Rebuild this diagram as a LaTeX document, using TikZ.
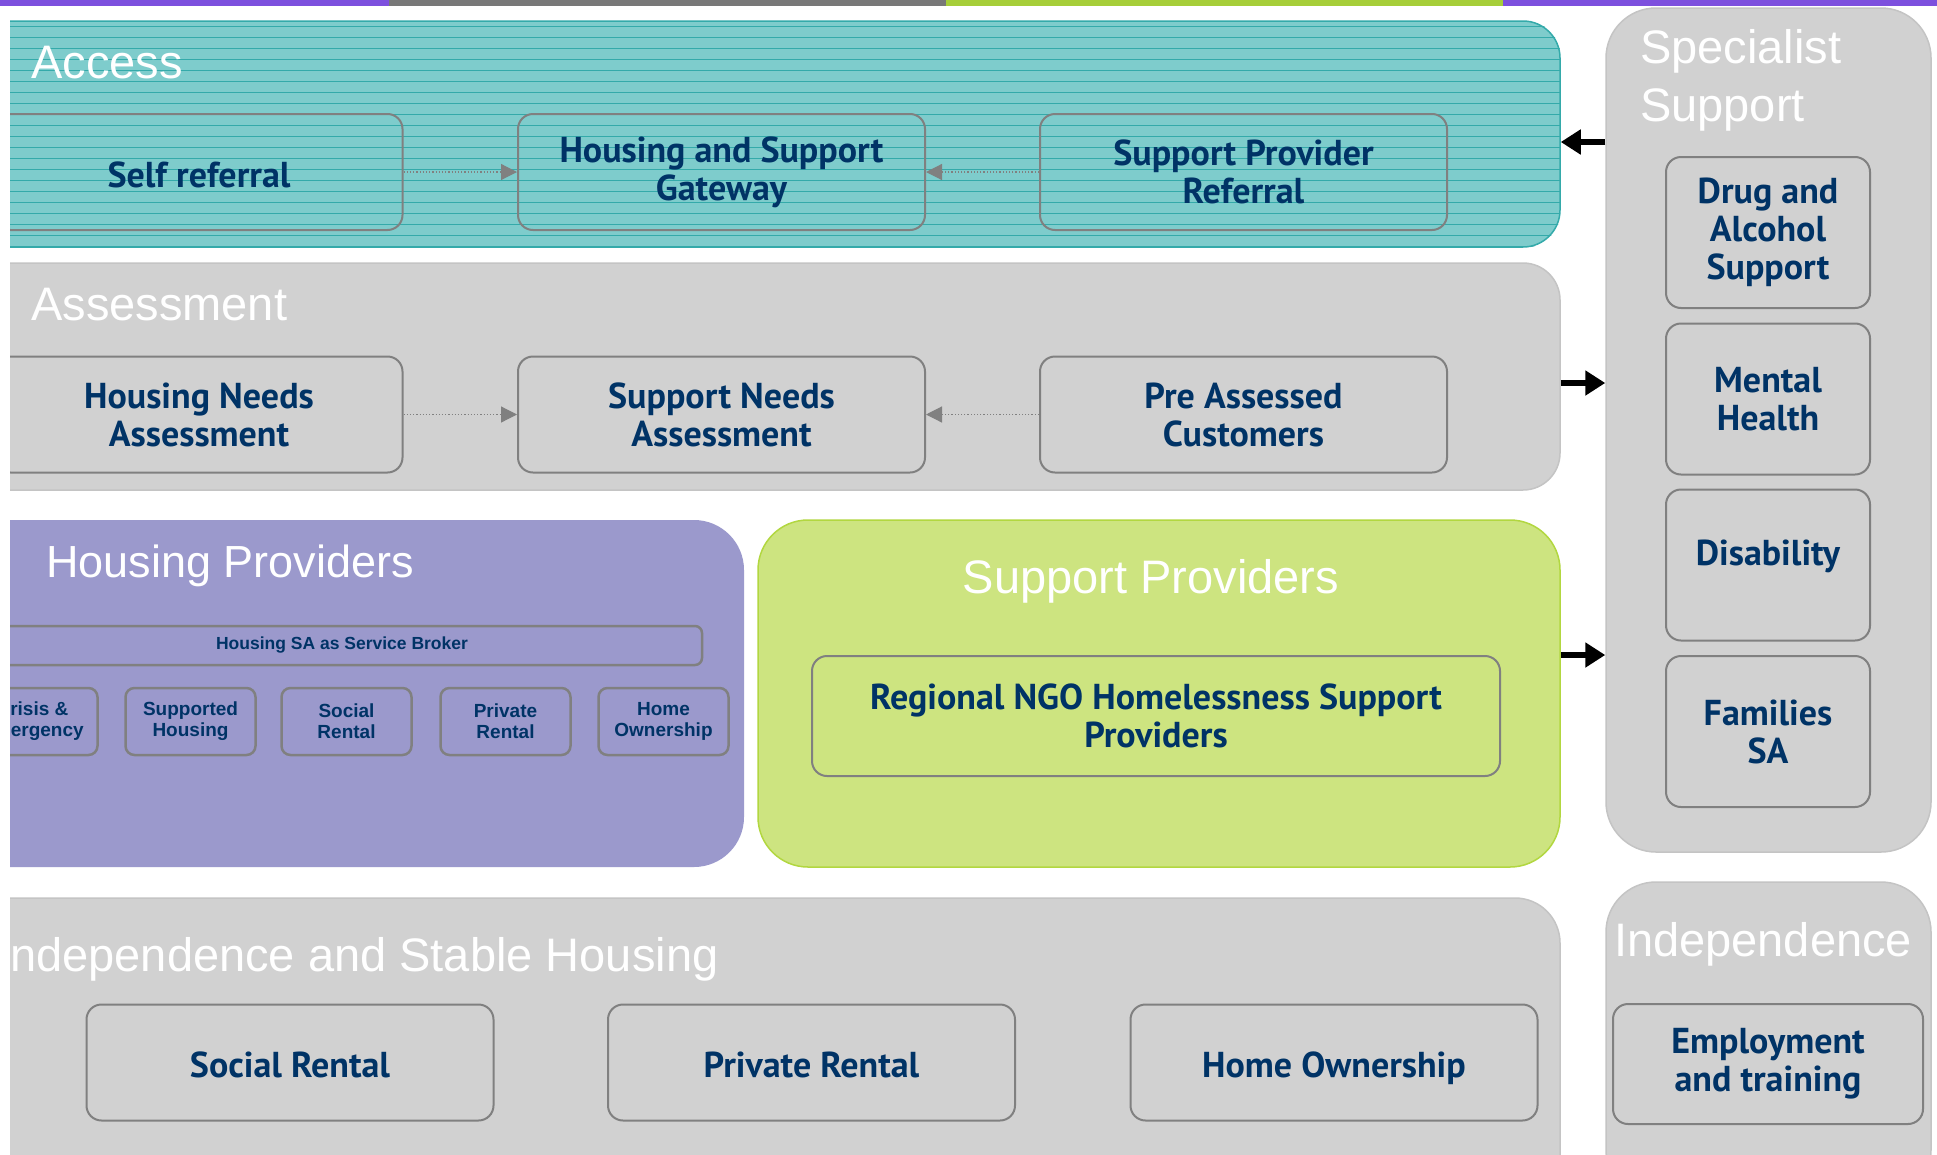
\documentclass[tikz,border=0pt]{standalone}
\usepackage{fontspec}
\setmainfont{Liberation Sans}
\newfontfamily\boxfont{PT Sans}
\usetikzlibrary{%
  arrows.meta,%
  positioning%
}
\definecolor{navy}{RGB}{0,51,102}
\definecolor{tealfill}{RGB}{126,204,204}
\definecolor{tealline}{RGB}{52,170,170}
\definecolor{panelgrey}{RGB}{209,209,209}
\definecolor{edgegrey}{RGB}{196,196,196}
\definecolor{boxgrey}{RGB}{128,128,128}
\definecolor{lilac}{RGB}{155,153,204}
\definecolor{lime}{RGB}{205,228,128}
\definecolor{limeedge}{RGB}{178,215,64}
\definecolor{barpurple}{RGB}{125,80,222}
\definecolor{bargrey}{RGB}{120,120,120}
\definecolor{bargreen}{RGB}{166,206,57}

% one line of box text, kept level whatever its letters
\newcommand{\evenline}[1]{\raisebox{-3pt}[24pt][0pt]{#1}}

\tikzset{
  panel/.style={inner sep=0pt, rounded corners=40pt},
  stepbox/.style={draw=boxgrey, line width=2pt, rounded corners=15pt,
    minimum width=407pt, minimum height=116pt, inner sep=0pt, align=center,
    text=navy, font=\boxfont\bfseries\fontsize{36}{38}\selectfont},
  tinybox/.style={draw=boxgrey, line width=2.5pt, rounded corners=9pt,
    minimum width=130pt, minimum height=67pt, inner sep=0pt, align=center,
    text=navy, font=\bfseries\fontsize{19}{21}\selectfont},
  heading/.style={text=white, inner sep=0pt, font=\fontsize{47}{58}\selectfont},
  flow/.style={draw=boxgrey, dotted, line width=1.2pt,
    -{Triangle[length=16pt,width=16pt]}},
  bigarrow/.style={line width=6pt, -{Triangle[length=20pt,width=24pt]}}
}

\begin{document}
\begin{tikzpicture}[x=1pt,y=-1pt]
\clip (0,0) rectangle (1937,1154);
\useasboundingbox (0,0) rectangle (1937,1154);
\fill[white] (0,0) rectangle (1937,1154);

% coloured strip along the top
\fill[barpurple] (0,0) rectangle (389,6);
\fill[bargrey] (389,0) rectangle (946,6);
\fill[bargreen] (946,0) rectangle (1503,6);
\fill[barpurple] (1503,0) rectangle (1937,6);

\begin{scope}
\clip (10,-10) rectangle (1600,1200);

% Access
\node[panel, rounded corners=37pt, fill=tealfill, draw=tealline, line width=1.5pt,
  minimum width=1600pt, minimum height=226pt] (acc) at (760,134) {};
\begin{scope}
\clip[rounded corners=37pt] (acc.south west) rectangle (acc.north east);
\foreach \y in {26,37,...,247}
  \draw[tealline, line width=1pt] (-40,\y) -- (1560,\y);
\end{scope}
\node[heading, anchor=base west] (acctitle) at (31,78) {Access};
\node[stepbox] (self) at (199,172) {\evenline{Self referral}};
\node[stepbox] (gate) at (721.5,172) {Housing and Support\\Gateway};
\node[stepbox] (spref) at (1243.5,172) {Support Provider\\Referral};
\draw[flow] (self) -- (gate);
\draw[flow] (spref) -- (gate);

% Assessment
\node[panel, rounded corners=37pt, fill=panelgrey, draw=edgegrey, line width=1.5pt,
  minimum width=1600pt, minimum height=227pt] (asm) at (760,376.5) {};
\node[heading, anchor=base west] (asmtitle) at (31,320) {Assessment};
\node[stepbox] (hna) at (199,414.5) {Housing Needs\\Assessment};
\node[stepbox] (sna) at (721.5,414.5) {Support Needs\\Assessment};
\node[stepbox] (pac) at (1243.5,414.5) {Pre Assessed\\Customers};
\draw[flow] (hna) -- (sna);
\draw[flow] (pac) -- (sna);

% Housing Providers
\node[panel, rounded corners=50pt, fill=lilac,
  minimum width=784pt, minimum height=347pt] (hp) at (352,693.5) {};
\node[heading, anchor=base west, font=\fontsize{45}{54}\selectfont] (hptitle)
  at (46,577) {Housing Providers};
\node[tinybox, minimum width=720pt, minimum height=39pt, rounded corners=7pt,
  font=\bfseries\fontsize{17.5}{21}\selectfont] (broker) at (342,645.5)
  {Housing SA as Service Broker};
\node[tinybox] (crisis) at (32.5,721.5) {Crisis \&\\Emergency};
\node[tinybox] (suph) at (190.5,721.5) {Supported\\Housing};
\node[tinybox] (socr) at (346.5,721.5) {Social\\Rental};
\node[tinybox] (privr) at (505.5,721.5) {Private\\Rental};
\node[tinybox] (homeo) at (663.5,721.5) {Home\\Ownership};

% Support Providers
\node[panel, rounded corners=50pt, fill=lime, draw=limeedge, line width=1.5pt,
  minimum width=802pt, minimum height=347pt] (sp) at (1159,693.5) {};
\node[heading, anchor=base] (sptitle) at (1151,593) {Support Providers};
\node[stepbox, minimum width=688pt, minimum height=120pt] (ngo) at (1156,716)
  {Regional NGO Homelessness Support\\Providers};

% Independence and Stable Housing
\node[panel, rounded corners=45pt, fill=panelgrey, draw=edgegrey, line width=1.5pt,
  minimum width=1600pt, minimum height=302pt] (ish) at (760,1049) {};
\node[heading, anchor=base west] (ishtitle) at (-3,971)
  {Independence and Stable Housing};
\node[stepbox] (socrent) at (290,1062.5) {\evenline{Social Rental}};
\node[stepbox] (privrent) at (811.5,1062.5) {\evenline{Private Rental}};
\node[stepbox] (homeown) at (1334,1062.5) {\evenline{Home Ownership}};
\end{scope}

% Specialist Support
\node[panel, rounded corners=50pt, fill=panelgrey, draw=edgegrey, line width=1.5pt,
  minimum width=325pt, minimum height=844pt] (spec) at (1768.5,430) {};
\node[heading, anchor=base west] (spectitle) at (1640,63) {Specialist};
\node[heading, anchor=base west] (spectitleb) at (1640,121) {Support};
\node[stepbox, minimum width=204pt, minimum height=151pt] (drug) at (1768,232.5)
  {Drug and\\Alcohol\\Support};
\node[stepbox, minimum width=204pt, minimum height=151pt] (mental) at (1768,399)
  {Mental\\Health};
\node[stepbox, minimum width=204pt, minimum height=151pt] (disab) at (1768,565)
  {\raisebox{0pt}[0pt][0pt]{Disability}};
\node[stepbox, minimum width=204pt, minimum height=151pt] (fam) at (1768,731.5)
  {Families\\SA};

% Independence
\node[panel, rounded corners=50pt, fill=panelgrey, draw=edgegrey, line width=1.5pt,
  minimum width=325pt, minimum height=318pt] (ind) at (1768.5,1041) {};
\node[heading, anchor=base] (indtitle) at (1763,956) {Independence};
\node[stepbox, minimum width=310pt, minimum height=120pt] (emp) at (1768,1064)
  {Employment\\and training};

% links to the specialist services
\coordinate (accport) at ([yshift=-8pt]acc.east);
\coordinate (asmport) at ([yshift=-6.5pt]asm.east);
\coordinate (spport) at ([yshift=38.5pt]sp.east);
\draw[bigarrow] (accport -| spec.west) -- (accport);
\draw[bigarrow] (asmport) -- (asmport -| spec.west);
\draw[bigarrow] (spport) -- (spport -| spec.west);
\end{tikzpicture}
\end{document}
